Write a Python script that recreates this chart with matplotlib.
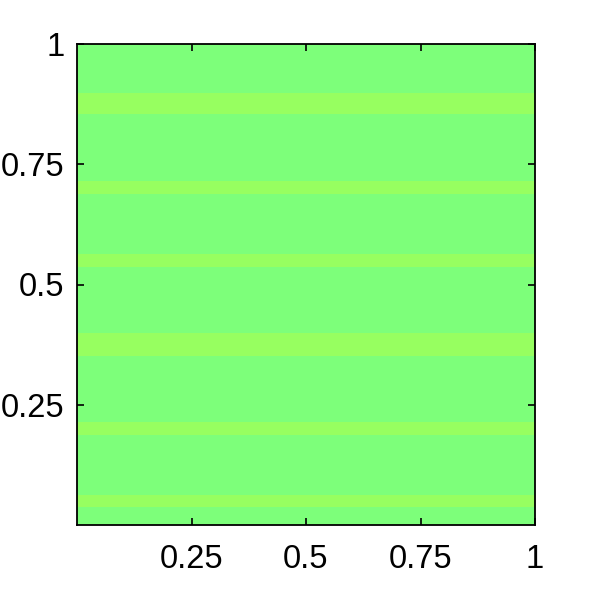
import matplotlib
matplotlib.use("Agg")
import matplotlib.pyplot as plt
import numpy as np

plt.rcParams['font.family'] = ['Liberation Sans', 'DejaVu Sans']

# band boundaries along y (lower, upper) where the field is slightly higher
band_lo = [0.037, 0.187, 0.351, 0.536, 0.688, 0.854]
band_hi = [0.062, 0.214, 0.399, 0.563, 0.715, 0.898]
base_value = 0.50
band_value = 0.535
tick_vals = [0.25, 0.5, 0.75, 1]
tick_labels = ['0.25', '0.5', '0.75', '1']

# y edges and cell values
edges = [0.0]
vals = []
for lo, hi in zip(band_lo, band_hi):
    edges += [lo, hi]
    vals += [base_value, band_value]
edges.append(1.0)
vals.append(base_value)
y_edges = np.array(edges)
x_edges = np.array([0.0, 1.0])
Z = np.array(vals).reshape(-1, 1)

fig = plt.figure(figsize=(5.91, 5.91), dpi=100)
ax = fig.add_axes([77/591, 66/591, (535-77)/591, (525-44)/591])
ax.pcolormesh(x_edges, y_edges, Z, cmap='jet', vmin=0, vmax=1, shading='flat')
ax.set_xlim(0, 1)
ax.set_ylim(0, 1)
ax.set_xticks(tick_vals)
ax.set_xticklabels(tick_labels)
ax.set_yticks(tick_vals)
ax.set_yticklabels(tick_labels)
ax.tick_params(direction='in', length=5, width=1.2, top=True, right=True,
               labelsize=23.5, pad=14)
ax.tick_params(axis='y', pad=9)
for s in ax.spines.values():
    s.set_linewidth(1.3)
fig.savefig('out.png', dpi=100)
